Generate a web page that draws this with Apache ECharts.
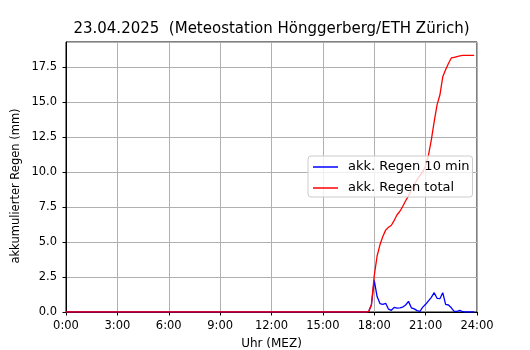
<!DOCTYPE html>
<html>
<head>
<meta charset="utf-8">
<script src="https://cdn.jsdelivr.net/npm/echarts@6/dist/echarts.min.js"></script>
<style>
  html, body { margin: 0; padding: 0; background: #fff; }
  #chart { width: 530px; height: 350px; }
</style>
</head>
<body>
<div id="chart"></div>
<script>
// Zeitachse: 10-Minuten-Schritte 0:00 .. 24:00
var timeLabels = []
for (var m = 0; m <= 24 * 60; m += 10) {
  timeLabels.push(Math.floor(m / 60) + ':' + String(m % 60).padStart(2, '0'))
}

// akk. Regen 10 min (mm), 0:00 .. 23:50
var regen10min = [
  0, 0, 0, 0, 0, 0, 0, 0, 0, 0, 0, 0, // 0:00-1:50
  0, 0, 0, 0, 0, 0, 0, 0, 0, 0, 0, 0, // 2:00-3:50
  0, 0, 0, 0, 0, 0, 0, 0, 0, 0, 0, 0, // 4:00-5:50
  0, 0, 0, 0, 0, 0, 0, 0, 0, 0, 0, 0, // 6:00-7:50
  0, 0, 0, 0, 0, 0, 0, 0, 0, 0, 0, 0, // 8:00-9:50
  0, 0, 0, 0, 0, 0, 0, 0, 0, 0, 0, 0, // 10:00-11:50
  0, 0, 0, 0, 0, 0, 0, 0, 0, 0, 0, 0, // 12:00-13:50
  0, 0, 0, 0, 0, 0, 0, 0, 0, 0, 0, 0, // 14:00-15:50
  0, 0, 0, 0, 0, 0, 0, 0, 0, 0, 0.02, 0.5, // 16:00-17:50
  2.26, 1.1, 0.6, 0.55, 0.62, 0.2, 0.12, 0.33, 0.28, 0.3, 0.35, 0.5, // 18:00-19:50
  0.76, 0.3, 0.22, 0.1, 0.05, 0.35, 0.55, 0.8, 1.05, 1.38, 0.98, 0.95, // 20:00-21:50
  1.38, 0.55, 0.5, 0.3, 0.05, 0.05, 0.12, 0.02, 0, 0, 0, 0 // 22:00-23:50
]

// akk. Regen total (mm), 0:00 .. 23:50
var regenTotal = [
  0, 0, 0, 0, 0, 0, 0, 0, 0, 0, 0, 0,
  0, 0, 0, 0, 0, 0, 0, 0, 0, 0, 0, 0,
  0, 0, 0, 0, 0, 0, 0, 0, 0, 0, 0, 0,
  0, 0, 0, 0, 0, 0, 0, 0, 0, 0, 0, 0,
  0, 0, 0, 0, 0, 0, 0, 0, 0, 0, 0, 0,
  0, 0, 0, 0, 0, 0, 0, 0, 0, 0, 0, 0,
  0, 0, 0, 0, 0, 0, 0, 0, 0, 0, 0, 0,
  0, 0, 0, 0, 0, 0, 0, 0, 0, 0, 0, 0,
  0, 0, 0, 0, 0, 0, 0, 0, 0, 0, 0.02, 0.5,
  2.6, 4.0, 4.8, 5.4, 5.85, 6.05, 6.2, 6.55, 6.95, 7.2, 7.55, 7.95,
  8.3, 8.7, 9.1, 9.45, 9.75, 10.0, 10.45, 11.2, 12.3, 13.6, 14.8, 15.5,
  16.8, 17.3, 17.75, 18.15, 18.2, 18.25, 18.3, 18.33, 18.33, 18.33, 18.33, 18.33
]

var seriesNames = ['akk. Regen 10 min', 'akk. Regen total']
var titleText = '23.04.2025  (Meteostation Hönggerberg/ETH Zürich)'
var font = 'DejaVu Sans'

var chart = echarts.init(document.getElementById('chart'), null, { renderer: 'canvas' })
chart.setOption({
  animation: false,
  backgroundColor: '#ffffff',
  textStyle: { fontFamily: font },
  grid: {
    left: 66, top: 42, width: 411, height: 270,
    show: true, borderColor: '#000000', borderWidth: 1,
    containLabel: false
  },
  legend: {
    orient: 'vertical',
    left: 308, top: 156,
    padding: [4, 3, 2, 5],
    itemWidth: 25, itemHeight: 1.5,
    itemGap: 7,
    icon: 'rect',
    backgroundColor: 'rgba(255,255,255,0.8)',
    borderColor: '#cccccc', borderWidth: 1, borderRadius: 3,
    textStyle: { fontFamily: font, fontSize: 13, color: '#000', lineHeight: 14, padding: [0, 0, 0, 5] },
    data: seriesNames
  },
  xAxis: {
    type: 'category',
    data: timeLabels,
    boundaryGap: false,
    axisLine: { lineStyle: { color: '#000', width: 1 } },
    axisTick: { show: true, interval: 17, length: 3.5, lineStyle: { color: '#000' } },
    axisLabel: { interval: 17, margin: 8, color: '#000', fontSize: 11.5, fontFamily: font },
    splitLine: { show: true, interval: 17, lineStyle: { color: '#b0b0b0', width: 1 } }
  },
  yAxis: {
    type: 'value',
    min: 0, max: 19.29, interval: 2.5,
    axisLine: { show: true, lineStyle: { color: '#000', width: 1 } },
    axisTick: { show: true, length: 3.5, lineStyle: { color: '#000' } },
    axisLabel: {
      margin: 9, color: '#000', fontSize: 11.5, fontFamily: font, showMaxLabel: false,
      formatter: function (v) { return v.toFixed(1) }
    },
    splitLine: { show: true, lineStyle: { color: '#b0b0b0', width: 1 } }
  },
  series: [
    {
      name: seriesNames[0], type: 'line', data: regen10min,
      showSymbol: false, symbol: 'none',
      lineStyle: { color: '#0000ff', width: 1.3 }, itemStyle: { color: '#0000ff' }
    },
    {
      name: seriesNames[1], type: 'line', data: regenTotal,
      showSymbol: false, symbol: 'none',
      lineStyle: { color: '#ff0000', width: 1.3 }, itemStyle: { color: '#ff0000' }
    }
  ],
  graphic: [
    {
      type: 'text', x: 271.5, y: 29,
      style: { text: titleText, font: '15px "DejaVu Sans"', fill: '#000', textAlign: 'center', textVerticalAlign: 'middle' }
    },
    {
      type: 'text', x: 16, y: 186, rotation: Math.PI / 2,
      style: { text: 'akkumulierter Regen (mm)', font: '11.5px "DejaVu Sans"', fill: '#000', textAlign: 'center', textVerticalAlign: 'middle' }
    },
    {
      type: 'text', x: 271.5, y: 344,
      style: { text: 'Uhr (MEZ)', font: '12px "DejaVu Sans"', fill: '#000', textAlign: 'center', textVerticalAlign: 'middle' }
    }
  ]
})
</script>
</body>
</html>
